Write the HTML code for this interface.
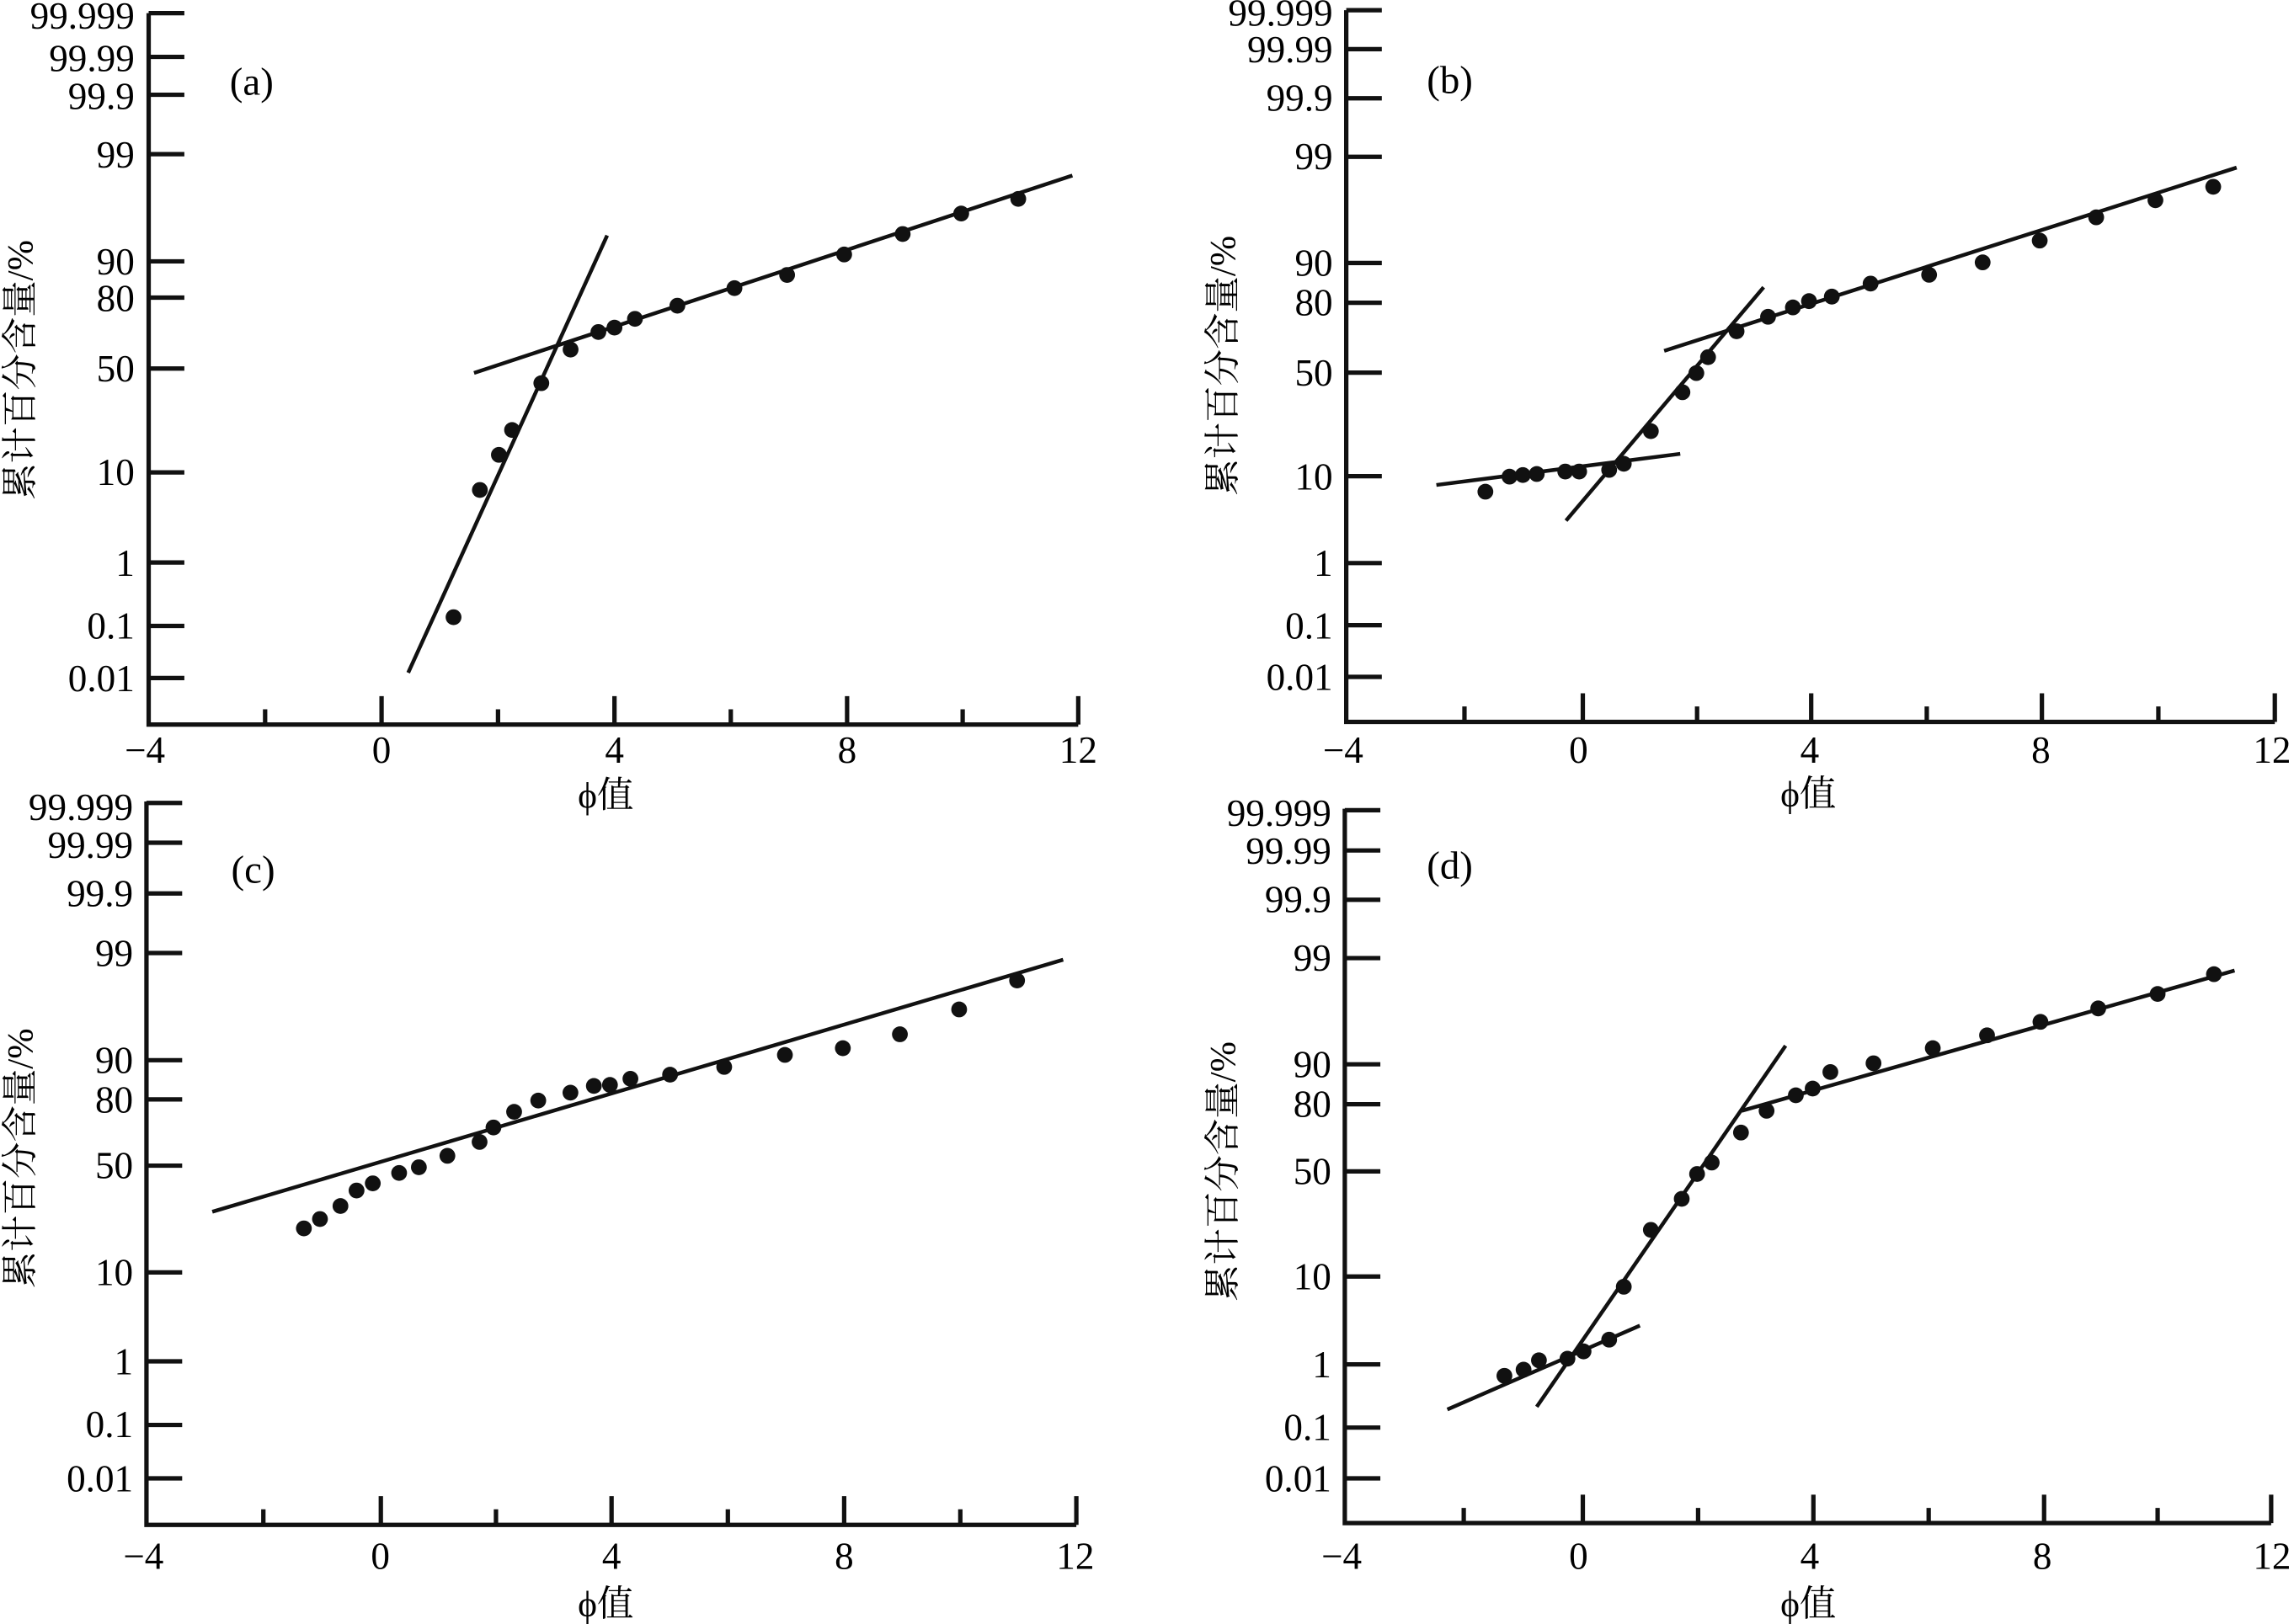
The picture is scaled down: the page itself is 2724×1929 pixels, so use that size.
<!DOCTYPE html>
<html><head><meta charset="utf-8"><style>html,body{margin:0;padding:0;background:#fff}svg{display:block}</style></head>
<body>
<svg width="2724" height="1929" viewBox="0 0 1568 1110.4" xmlns="http://www.w3.org/2000/svg" font-family="'Liberation Serif','Noto Serif CJK SC',serif" fill="#000">
<rect width="1568" height="1110.4" fill="#fff"/>
<g stroke="#111" stroke-width="3" fill="none" stroke-linecap="butt">
<polyline points="101.6,9 101.6,495.4 737,495.4"/>
<path d="M101.6,9H126M101.6,38.9H126M101.6,64.8H126M101.6,105.4H126M101.6,178.7H126M101.6,203.5H126M101.6,252H126M101.6,323H126M101.6,384.6H126M101.6,428H126M101.6,463.6H126"/>
<path d="M260.8,495.4V476M420,495.4V476M579,495.4V476M737,495.4V476M181.2,495.4V485M340.4,495.4V485M499.5,495.4V485M658,495.4V485"/>
<polyline points="920.2,7 920.2,493.6 1554.9,493.6"/>
<path d="M920.2,7H944.5M920.2,33.6H944.5M920.2,67.2H944.5M920.2,107.2H944.5M920.2,179.8H944.5M920.2,207H944.5M920.2,254.8H944.5M920.2,325.6H944.5M920.2,385H944.5M920.2,427.5H944.5M920.2,462.8H944.5"/>
<path d="M1081.9,493.6V474M1238,493.6V474M1395.7,493.6V474M1554.9,493.6V474M1001,493.6V483M1160,493.6V483M1317,493.6V483M1475.3,493.6V483"/>
<polyline points="100.1,548 100.1,1042.6 735.7,1042.6"/>
<path d="M100.1,549H124.5M100.1,576.2H124.5M100.1,610.9H124.5M100.1,651.6H124.5M100.1,724.9H124.5M100.1,751.7H124.5M100.1,797H124.5M100.1,870H124.5M100.1,930.8H124.5M100.1,974.3H124.5M100.1,1010.8H124.5"/>
<path d="M260.3,1042.6V1023M418,1042.6V1023M577,1042.6V1023M735.7,1042.6V1023M180,1042.6V1032M339,1042.6V1032M497.5,1042.6V1032M656.4,1042.6V1032"/>
<polyline points="919.2,553 919.2,1041.4 1552.4,1041.4"/>
<path d="M919.2,554H943.5M919.2,581.5H943.5M919.2,615.2H943.5M919.2,655.1H943.5M919.2,727.7H943.5M919.2,755H943.5M919.2,800.9H943.5M919.2,872.8H943.5M919.2,932.9H943.5M919.2,976.1H943.5M919.2,1010.8H943.5"/>
<path d="M1081.9,1041.4V1022M1239.5,1041.4V1022M1397.2,1041.4V1022M1552.4,1041.4V1022M1000.5,1041.4V1031M1160.7,1041.4V1031M1318.3,1041.4V1031M1474.8,1041.4V1031"/>
</g>
<g stroke="#111" stroke-width="2.6" fill="none">
<line x1="279" y1="460" x2="415" y2="161"/>
<line x1="324" y1="255" x2="733" y2="120"/>
<line x1="981.8" y1="331.6" x2="1148.5" y2="310.3"/>
<line x1="1070.4" y1="356" x2="1205.5" y2="196.4"/>
<line x1="1137.5" y1="239.9" x2="1528.8" y2="114.6"/>
<line x1="145.1" y1="828.5" x2="726.7" y2="656.2"/>
<line x1="989.3" y1="963.7" x2="1120.9" y2="906.4"/>
<line x1="1050.4" y1="961.9" x2="1220.5" y2="715"/>
<line x1="1190.5" y1="759.5" x2="1527.4" y2="663.6"/>
</g>
<g fill="#111">
<circle cx="310" cy="422" r="5.4"/><circle cx="328" cy="335" r="5.4"/><circle cx="341" cy="311" r="5.4"/><circle cx="350" cy="294" r="5.4"/><circle cx="370" cy="262" r="5.4"/><circle cx="390" cy="239" r="5.4"/><circle cx="409" cy="227" r="5.4"/><circle cx="420" cy="224" r="5.4"/><circle cx="434" cy="218" r="5.4"/><circle cx="463" cy="209" r="5.4"/><circle cx="502" cy="197" r="5.4"/><circle cx="538" cy="188" r="5.4"/><circle cx="577" cy="174" r="5.4"/><circle cx="617" cy="160" r="5.4"/><circle cx="657" cy="146" r="5.4"/><circle cx="696" cy="136" r="5.4"/>
<circle cx="1015.3" cy="336.2" r="5.4"/><circle cx="1031.8" cy="325.9" r="5.4"/><circle cx="1040.9" cy="324.8" r="5.4"/><circle cx="1050.4" cy="324.1" r="5.4"/><circle cx="1069.9" cy="322.4" r="5.4"/><circle cx="1079.4" cy="322.4" r="5.4"/><circle cx="1099.9" cy="321.3" r="5.4"/><circle cx="1109.9" cy="317.1" r="5.4"/><circle cx="1128.4" cy="294.8" r="5.4"/><circle cx="1150" cy="268.2" r="5.4"/><circle cx="1159.5" cy="255.1" r="5.4"/><circle cx="1167.5" cy="244.2" r="5.4"/><circle cx="1187" cy="226.5" r="5.4"/><circle cx="1208.5" cy="216.6" r="5.4"/><circle cx="1225.5" cy="210.2" r="5.4"/><circle cx="1236.5" cy="205.9" r="5.4"/><circle cx="1252.1" cy="202.8" r="5.4"/><circle cx="1278.6" cy="193.9" r="5.4"/><circle cx="1318.6" cy="187.9" r="5.4"/><circle cx="1355.2" cy="179.4" r="5.4"/><circle cx="1394.2" cy="164.5" r="5.4"/><circle cx="1432.8" cy="148.6" r="5.4"/><circle cx="1473.3" cy="136.9" r="5.4"/><circle cx="1512.8" cy="127.7" r="5.4"/>
<circle cx="207.7" cy="839.9" r="5.4"/><circle cx="218.7" cy="833.5" r="5.4"/><circle cx="232.7" cy="824.6" r="5.4"/><circle cx="243.7" cy="814" r="5.4"/><circle cx="254.8" cy="809.1" r="5.4"/><circle cx="272.8" cy="802" r="5.4"/><circle cx="286.3" cy="798.1" r="5.4"/><circle cx="305.8" cy="790.3" r="5.4"/><circle cx="327.8" cy="780.8" r="5.4"/><circle cx="337.3" cy="770.9" r="5.4"/><circle cx="351.4" cy="760.2" r="5.4"/><circle cx="367.9" cy="752.5" r="5.4"/><circle cx="389.9" cy="747.1" r="5.4"/><circle cx="405.9" cy="742.5" r="5.4"/><circle cx="416.9" cy="741.8" r="5.4"/><circle cx="430.9" cy="737.6" r="5.4"/><circle cx="458" cy="734.8" r="5.4"/><circle cx="495" cy="729.5" r="5.4"/><circle cx="536.5" cy="721.3" r="5.4"/><circle cx="576.1" cy="716.7" r="5.4"/><circle cx="615.1" cy="707.2" r="5.4"/><circle cx="655.6" cy="690.2" r="5.4"/><circle cx="695.2" cy="670.4" r="5.4"/>
<circle cx="1028.3" cy="940.7" r="5.4"/><circle cx="1041.4" cy="936.5" r="5.4"/><circle cx="1051.9" cy="930.1" r="5.4"/><circle cx="1071.4" cy="929" r="5.4"/><circle cx="1082.4" cy="924" r="5.4"/><circle cx="1099.9" cy="916" r="5.4"/><circle cx="1109.9" cy="879.8" r="5.4"/><circle cx="1128.4" cy="840.9" r="5.4"/><circle cx="1149.5" cy="819.7" r="5.4"/><circle cx="1160" cy="802.7" r="5.4"/><circle cx="1170" cy="794.9" r="5.4"/><circle cx="1190" cy="774.4" r="5.4"/><circle cx="1207.5" cy="759.5" r="5.4"/><circle cx="1227.5" cy="748.9" r="5.4"/><circle cx="1239" cy="744.3" r="5.4"/><circle cx="1251.1" cy="733" r="5.4"/><circle cx="1280.6" cy="727" r="5.4"/><circle cx="1321.1" cy="716.7" r="5.4"/><circle cx="1358.2" cy="707.9" r="5.4"/><circle cx="1394.7" cy="698.7" r="5.4"/><circle cx="1434.2" cy="689.5" r="5.4"/><circle cx="1474.8" cy="679.6" r="5.4"/><circle cx="1513.3" cy="666.1" r="5.4"/>
</g>
<g font-size="26" text-anchor="end" dominant-baseline="central">
<text x="92" y="11">99.999</text><text x="92" y="40">99.99</text><text x="92" y="66">99.9</text><text x="92" y="106">99</text><text x="92" y="179">90</text><text x="92" y="204">80</text><text x="92" y="252">50</text><text x="92" y="323">10</text><text x="92" y="385">1</text><text x="92" y="428">0.1</text><text x="92" y="464">0.01</text>
<text x="911" y="9">99.999</text><text x="911" y="34">99.99</text><text x="911" y="67">99.9</text><text x="911" y="107">99</text><text x="911" y="180">90</text><text x="911" y="207">80</text><text x="911" y="255">50</text><text x="911" y="326">10</text><text x="911" y="385">1</text><text x="911" y="428">0.1</text><text x="911" y="463">0.01</text>
<text x="91" y="552">99.999</text><text x="91" y="578">99.99</text><text x="91" y="611">99.9</text><text x="91" y="652">99</text><text x="91" y="725">90</text><text x="91" y="752">80</text><text x="91" y="797">50</text><text x="91" y="870">10</text><text x="91" y="931">1</text><text x="91" y="974">0.1</text><text x="91" y="1011">0.01</text>
<text x="910" y="556">99.999</text><text x="910" y="582">99.99</text><text x="910" y="615">99.9</text><text x="910" y="655">99</text><text x="910" y="728">90</text><text x="910" y="755">80</text><text x="910" y="801">50</text><text x="910" y="873">10</text><text x="910" y="933">1</text><text x="910" y="976">0.1</text><text x="910" y="1011">0.01</text>
</g>
<g font-size="26" text-anchor="middle" dominant-baseline="central">
<text x="99" y="513">−4</text><text x="260.8" y="513">0</text><text x="420" y="513">4</text><text x="579" y="513">8</text><text x="737" y="513">12</text>
<text x="918" y="513">−4</text><text x="1079" y="513">0</text><text x="1237" y="513">4</text><text x="1395" y="513">8</text><text x="1553" y="513">12</text>
<text x="98" y="1064">−4</text><text x="260" y="1064">0</text><text x="418" y="1064">4</text><text x="577" y="1064">8</text><text x="735" y="1064">12</text>
<text x="917" y="1064">−4</text><text x="1079" y="1064">0</text><text x="1237" y="1064">4</text><text x="1396" y="1064">8</text><text x="1553" y="1064">12</text>
</g>
<g font-size="25" text-anchor="middle" dominant-baseline="central">
<text x="414" y="544">ϕ值</text><text x="1236" y="543">ϕ值</text><text x="414" y="1097">ϕ值</text><text x="1236" y="1097">ϕ值</text>
<text transform="translate(14,253) rotate(-90)">累计百分含量/%</text>
<text transform="translate(836,250) rotate(-90)">累计百分含量/%</text>
<text transform="translate(14,792) rotate(-90)">累计百分含量/%</text>
<text transform="translate(836,801) rotate(-90)">累计百分含量/%</text>
</g>
<g font-size="27" text-anchor="middle" dominant-baseline="central">
<text x="172" y="56">(a)</text><text x="991" y="55">(b)</text><text x="173" y="595">(c)</text><text x="991" y="592">(d)</text>
</g>
</svg>
</body></html>
